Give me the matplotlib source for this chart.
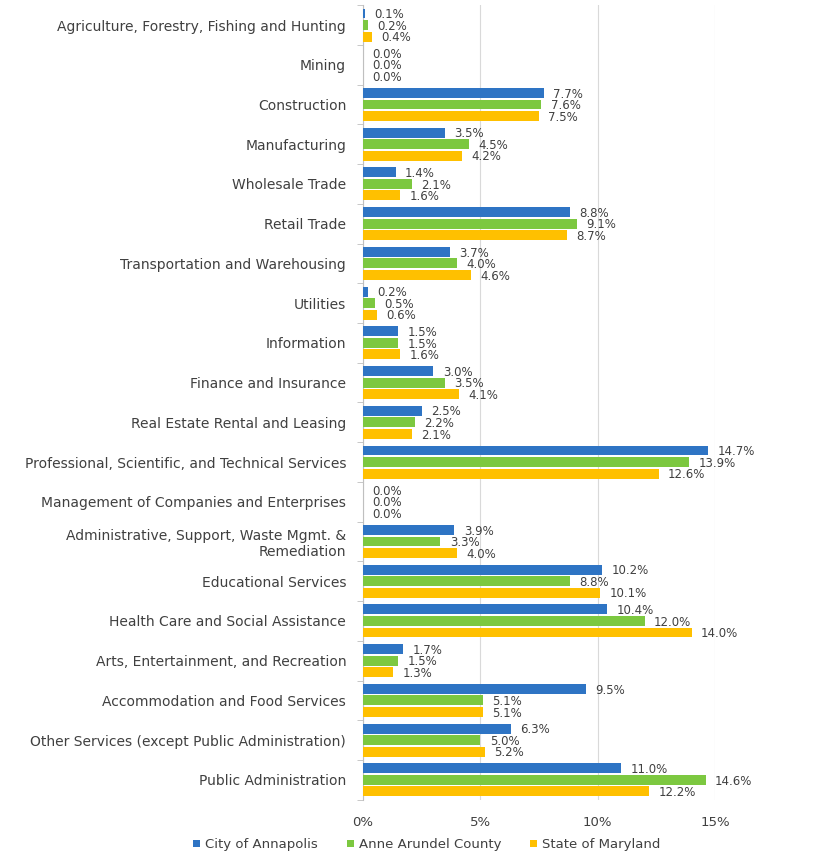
import numpy as np
import matplotlib.pyplot as plt

plt.rcParams['font.family'] = ['DejaVu Sans']

categories = [
    'Agriculture, Forestry, Fishing and Hunting',
    'Mining',
    'Construction',
    'Manufacturing',
    'Wholesale Trade',
    'Retail Trade',
    'Transportation and Warehousing',
    'Utilities',
    'Information',
    'Finance and Insurance',
    'Real Estate Rental and Leasing',
    'Professional, Scientific, and Technical Services',
    'Management of Companies and Enterprises',
    'Administrative, Support, Waste Mgmt. &\nRemediation',
    'Educational Services',
    'Health Care and Social Assistance',
    'Arts, Entertainment, and Recreation',
    'Accommodation and Food Services',
    'Other Services (except Public Administration)',
    'Public Administration',
]
annapolis = [0.1, 0.0, 7.7, 3.5, 1.4, 8.8, 3.7, 0.2, 1.5, 3.0, 2.5, 14.7, 0.0, 3.9, 10.2, 10.4, 1.7, 9.5, 6.3, 11.0]
county = [0.2, 0.0, 7.6, 4.5, 2.1, 9.1, 4.0, 0.5, 1.5, 3.5, 2.2, 13.9, 0.0, 3.3, 8.8, 12.0, 1.5, 5.1, 5.0, 14.6]
maryland = [0.4, 0.0, 7.5, 4.2, 1.6, 8.7, 4.6, 0.6, 1.6, 4.1, 2.1, 12.6, 0.0, 4.0, 10.1, 14.0, 1.3, 5.1, 5.2, 12.2]
series_names = ['City of Annapolis', 'Anne Arundel County', 'State of Maryland']
colors = ['#2E74C4', '#7CC840', '#FFC000']

fig = plt.figure(figsize=(8.21, 8.59), dpi=100)
ax = fig.add_axes([0.442, 0.069, 0.429, 0.925])

y = np.arange(len(categories))
h = 0.25
off = 0.29
for i, (vals, name, c) in enumerate(zip([annapolis, county, maryland], series_names, colors)):
    pos = y + (i - 1) * off
    ax.barh(pos, vals, height=h, color=c, label=name, zorder=3)
    for p, v in zip(pos, vals):
        ax.text(v + 0.4, p + 0.03, f'{v:.1f}%', va='center', ha='left',
                fontsize=8.5, color='#404040', clip_on=False, zorder=4)

ax.set_ylim(len(categories) - 0.5, -0.5)
ax.set_xlim(0, 15)
ax.set_xticks([0, 5, 10, 15])
ax.set_xticklabels(['0%', '5%', '10%', '15%'], fontsize=9.5, color='#404040')
ax.set_yticks(y)
ax.set_yticklabels(categories, fontsize=10, color='#404040')
ax.tick_params(axis='y', length=0, pad=12)
ax.tick_params(axis='x', length=0, pad=12)
ax.set_yticks(np.arange(len(categories) + 1) - 0.5, minor=True)
ax.tick_params(axis='y', which='minor', length=4, color='#BFBFBF')
ax.grid(axis='x', color='#D9D9D9', linewidth=0.8, zorder=0)
for s in ['top', 'right', 'bottom']:
    ax.spines[s].set_visible(False)
ax.spines['left'].set_color('#BFBFBF')

fig.legend(loc='lower center', bbox_to_anchor=(0.52, -0.005), ncol=3, frameon=False,
           fontsize=9.5, handlelength=0.5, handleheight=0.5, columnspacing=2.2,
           handletextpad=0.4, labelcolor='#404040')

fig.savefig('out.png', dpi=100)
